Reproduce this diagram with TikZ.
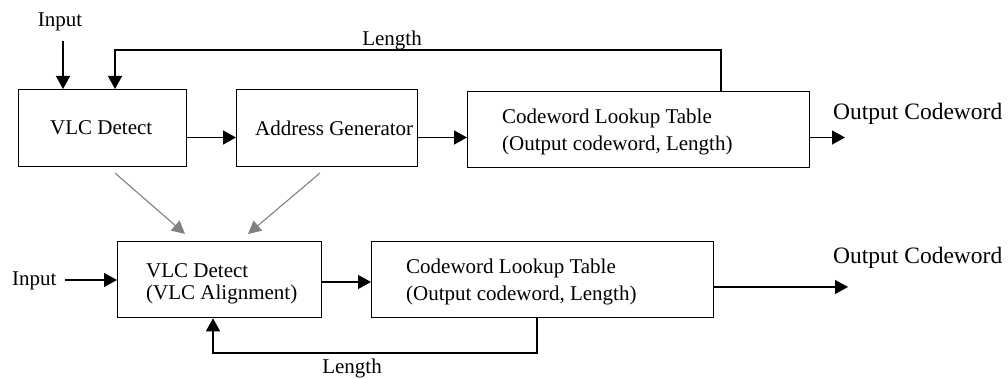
\documentclass[tikz,border=0pt]{standalone}
\usepackage{fontspec}
\setmainfont{Liberation Serif}
\usetikzlibrary{arrows.meta}
\begin{document}
\begin{tikzpicture}[x=1pt,y=-1pt,
  box/.style={draw, line width=1.3pt, inner sep=0pt, anchor=north west},
  txt/.style={inner sep=0pt, font=\fontsize{21}{27}\selectfont, anchor=base west, align=left},
  tightlines/.style={font=\fontsize{21}{22}\selectfont},
  bigtxt/.style={inner sep=0pt, font=\fontsize{23.5}{28}\selectfont, anchor=base west},
  arr/.style={line width=1.3pt, -{Triangle[length=13pt,width=14pt]}},
  garr/.style={draw=gray, line width=1.1pt, -{Triangle[length=13pt,width=13pt]}}]
\useasboundingbox (0,0) rectangle (1008,379);

% ---- upper chain ----
\node[box, minimum width=168pt, minimum height=77pt] (vlc1) at (18,89) {};
\node[box, minimum width=181pt, minimum height=77pt] (ag1) at (236,89) {};
\node[box, minimum width=342pt, minimum height=76pt] (cw1) at (467,91) {};
\node[txt] (vlc1t) at (50,135) {VLC Detect};
\node[txt] (ag1t) at (255,136) {Address Generator};
% multi-line labels are placed by the baseline of their last line
\node[txt] (cw1t) at (502,151) {Codeword Lookup Table\\(Output codeword, Length)};
\node[txt, anchor=base] (in1) at (60,27) {Input};
\node[txt, anchor=base] (len1) at (392,46) {Length};
\node[bigtxt] (out1t) at (833,120) {Output Codeword};

\coordinate (in1a) at (63,41);
\coordinate (row1) at (0,137.5);
\coordinate (out1) at (845,137.5);
\coordinate (fbR) at (721,50);
\coordinate (fbL) at (115,50);

\draw[arr] (in1a) -- (in1a |- vlc1.north);
\draw[arr] (fbR |- cw1.north) -- (fbR) -- (fbL) -- (fbL |- vlc1.north);
\draw[arr] (vlc1.east |- row1) -- (ag1.west |- row1);
\draw[arr] (ag1.east |- row1) -- (cw1.west |- row1);
\draw[arr] (cw1.east |- row1) -- (out1);

% ---- transition to the merged scheme ----
\coordinate (g1s) at (115,173);
\coordinate (g1e) at (185,234);
\coordinate (g2s) at (320,173);
\coordinate (g2e) at (248,234);
\draw[garr] (g1s) -- (g1e);
\draw[garr] (g2s) -- (g2e);

% ---- lower chain ----
\node[box, minimum width=204pt, minimum height=76pt] (vlc2) at (117,241) {};
\node[box, minimum width=342pt, minimum height=76pt] (cw2) at (371,241) {};
\node[txt, tightlines] (vlc2t) at (146,299) {VLC Detect\\(VLC Alignment)};
\node[txt] (cw2t) at (406,300) {Codeword Lookup Table\\(Output codeword, Length)};
\node[txt] (in2) at (12,285) {Input};
\node[txt, anchor=base] (len2) at (352,373) {Length};
\node[bigtxt] (out2t) at (833,263) {Output Codeword};

\coordinate (in2a) at (65,280);
\coordinate (row2) at (0,282);
\coordinate (out2) at (848,287);
\coordinate (fbR2) at (537,353);
\coordinate (fbL2) at (213,353);

\draw[arr] (in2a) -- (in2a -| vlc2.west);
\draw[arr] (vlc2.east |- row2) -- (cw2.west |- row2);
\draw[arr] (cw2.east |- out2) -- (out2);
\draw[arr] (fbR2 |- cw2.south) -- (fbR2) -- (fbL2) -- (fbL2 |- vlc2.south);
\end{tikzpicture}
\end{document}
